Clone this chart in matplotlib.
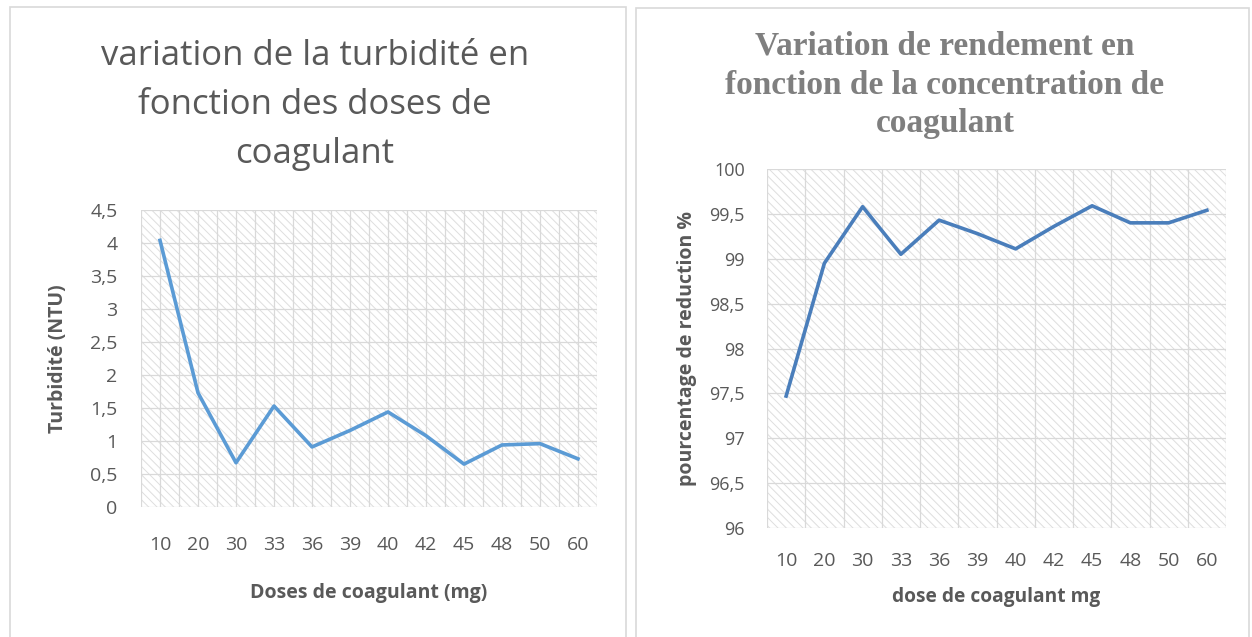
import matplotlib
matplotlib.use('Agg')
import matplotlib.pyplot as plt
from matplotlib.patches import Rectangle

# data
doses = ['10', '20', '30', '33', '36', '39', '40', '42', '45', '48', '50', '60']
turbidite = [4.04, 1.73, 0.67, 1.53, 0.91, 1.16, 1.44, 1.08, 0.65, 0.94, 0.96, 0.73]
rendement = [97.47, 98.95, 99.58, 99.05, 99.43, 99.28, 99.11, 99.36, 99.59, 99.40, 99.40, 99.54]

left_yticks = [0, 0.5, 1, 1.5, 2, 2.5, 3, 3.5, 4, 4.5]
right_yticks = [96, 96.5, 97, 97.5, 98, 98.5, 99, 99.5, 100]

W, H = 1252, 637
TXT = '#595959'
GRID = '#d9d9d9'
SANS = ['Open Sans', 'DejaVu Sans']
SERIF = ['Liberation Serif', 'DejaVu Serif']


def comma(v):
    return ('%g' % v).replace('.', ',')


def px_box(x0, y0, x1, y1):
    # pixel box (top-left origin) -> figure fraction rect
    return [x0 / W, 1 - y1 / H, (x1 - x0) / W, (y1 - y0) / H]


def style_axes(ax, yticks, half_grid, ysize, ypad, xpad):
    n = len(doses)
    x = list(range(n))
    ax.set_xlim(-0.5, n - 0.5)
    ax.set_ylim(yticks[0], yticks[-1])
    ax.set_xticks(x)
    ax.set_xticklabels(doses, fontsize=14, color=TXT, family=SANS)
    ax.set_yticks(yticks)
    ax.set_yticklabels([comma(v) for v in yticks], fontsize=ysize, color=TXT, family=SANS)
    step = 0.5 if half_grid else 1.0
    v = -0.5
    while v <= n - 0.5 + 1e-9:
        ax.axvline(v, color=GRID, lw=0.9, zorder=1)
        v += step
    for v in yticks:
        ax.axhline(v, color=GRID, lw=0.9, zorder=1)
    ax.tick_params(axis='y', length=0, pad=ypad)
    ax.tick_params(axis='x', length=0, pad=xpad)
    for s in ax.spines.values():
        s.set_visible(False)
    bg = Rectangle((0, 0), 1, 1, transform=ax.transAxes, facecolor='white',
                   edgecolor='#dedede', hatch='\\\\\\\\', lw=0, zorder=0)
    ax.add_patch(bg)
    return x


plt.rcParams['hatch.linewidth'] = 0.7
fig = plt.figure(figsize=(W / 100, H / 100), dpi=100)

# panel frames
fig.patches.append(Rectangle((10 / W, -0.05), 616 / W, 1.05 - 7 / H, transform=fig.transFigure,
                             facecolor='none', edgecolor=GRID, lw=1.2))
fig.patches.append(Rectangle((636 / W, -0.05), 613 / W, 1.05 - 8 / H, transform=fig.transFigure,
                             facecolor='none', edgecolor=GRID, lw=1.2))

# left chart
ax1 = fig.add_axes(px_box(141, 210, 597, 507))
x = style_axes(ax1, left_yticks, True, 14, 17, 21)
ax1.plot(x, turbidite, color='#5B9BD5', lw=2.6, zorder=3, solid_joinstyle='round')
ax1.set_xlabel('Doses de coagulant (mg)', fontsize=14, fontweight='bold', color=TXT, family=SANS)
ax1.xaxis.label.set_va('center')
ax1.xaxis.set_label_coords((369 - 141) / 456, (507 - 593) / 297)
ax1.set_ylabel('Turbidité (NTU)', fontsize=14, fontweight='bold', color=TXT, family=SANS)
ax1.yaxis.label.set_va('center')
ax1.yaxis.set_label_coords((58 - 141) / 456, 0.5)
fig.text(315 / W, 1 - 105 / H,
         'variation de la turbidité en\nfonction des doses de\ncoagulant',
         ha='center', va='center', fontsize=25, color=TXT, family=SANS,
         linespacing=1.56)

# right chart
ax2 = fig.add_axes(px_box(767, 169, 1226, 528))
x = style_axes(ax2, right_yticks, False, 13, 16, 17)
ax2.plot(x, rendement, color='#4A7EBB', lw=2.6, zorder=3, solid_joinstyle='round')
ax2.set_xlabel('dose de coagulant mg', fontsize=13.8, fontweight='bold', color=TXT, family=SANS)
ax2.xaxis.label.set_va('center')
ax2.xaxis.set_label_coords((996 - 767) / 459, (528 - 597) / 359)
ax2.set_ylabel('pourcentage de reduction %', fontsize=14, fontweight='bold', color=TXT, family=SANS)
ax2.yaxis.label.set_va('center')
ax2.yaxis.set_label_coords((687 - 767) / 459, 0.5)
fig.text(945 / W, 1 - 85 / H,
         'Variation de rendement en\nfonction de la concentration de\ncoagulant',
         ha='center', va='center', fontsize=24, fontweight='bold', color='#7f7f7f',
         family=SERIF, linespacing=1.32)

fig.savefig('out.png', dpi=100)
